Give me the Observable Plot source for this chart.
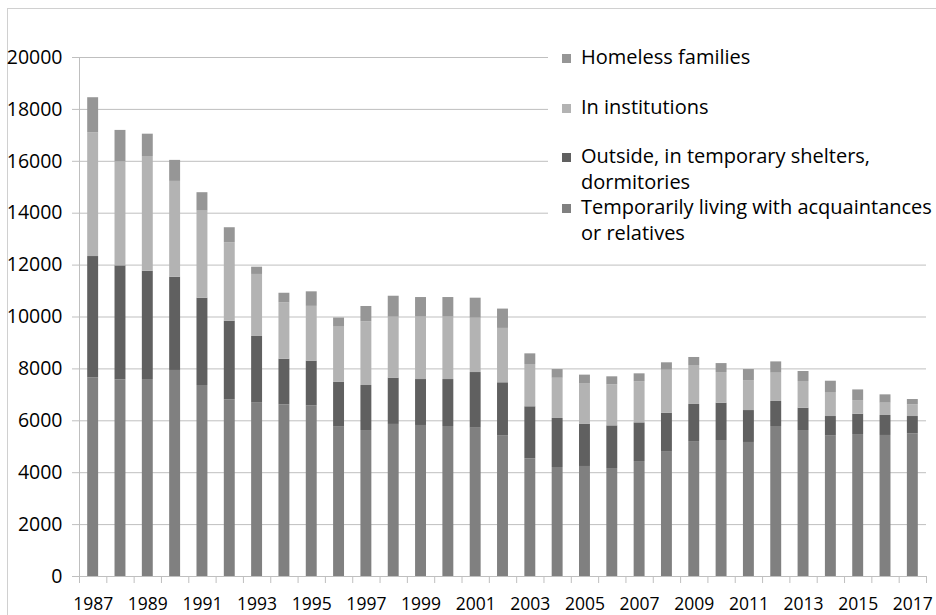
<!DOCTYPE html>
<html><head><meta charset="utf-8">
<script src="https://cdn.jsdelivr.net/npm/d3@7"></script>
<script src="https://cdn.jsdelivr.net/npm/@observablehq/plot@0.6"></script>
<style>
body{margin:0;background:#fff;font-family:"Open Sans",sans-serif;}
#wrap{position:relative;width:936px;height:615px;overflow:hidden;background:#fff;}
#frame{position:absolute;left:7px;top:8px;width:960px;height:640px;border-top:1px solid #d0d0d0;border-left:1px solid #d0d0d0;}
#chart{position:absolute;left:0;top:0;}
#legend{position:absolute;left:548px;top:38px;width:388px;height:218px;background:#fff;}
.item{position:absolute;left:33px;font-size:20px;line-height:26px;color:#000;white-space:nowrap;}
.sw{position:absolute;left:14px;width:9px;height:9px;}
</style></head>
<body><div id="wrap"><div id="frame"></div><div id="chart"></div><div id="legend"></div></div>
<script>
const years = [1987,1988,1989,1990,1991,1992,1993,1994,1995,1996,1997,1998,1999,2000,2001,2002,2003,2004,2005,2006,2007,2008,2009,2010,2011,2012,2013,2014,2015,2016,2017];
const yearLabels = [1987,1989,1991,1993,1995,1997,1999,2001,2003,2005,2007,2009,2011,2013,2015,2017];
const yTicks = [0,2000,4000,6000,8000,10000,12000,14000,16000,18000,20000];

// stacking order bottom -> top
const series = ["Temporarily living with acquaintances or relatives","Outside, in temporary shelters, dormitories","In institutions","Homeless families"];
const colors = ["#808080","#606060","#b3b3b3","#969696"];

const temporarily = [7650,7580,7590,7940,7360,6810,6680,6615,6580,5755,5625,5860,5820,5780,5715,5410,4535,4200,4240,4160,4430,4790,5200,5240,5165,5780,5625,5410,5470,5435,5500];
const outside     = [4680,4390,4175,3595,3365,3030,2570,1760,1720,1735,1735,1785,1770,1810,2145,2055,2005,1890,1620,1645,1490,1505,1430,1440,1230,965,860,755,785,770,665];
const institutions= [4770,4010,4420,3690,3355,3020,2390,2170,2110,2120,2455,2350,2410,2410,2095,2095,1630,1550,1555,1580,1590,1655,1500,1180,1155,1090,1030,925,525,475,450];
const homeless    = [1350,1210,860,810,710,580,280,370,560,350,590,805,750,750,770,745,410,335,345,310,300,285,310,345,425,435,385,435,410,320,205];

// legend (top -> bottom) with line breaks as in the original
const legendItems = [
  {name:"Homeless families", lines:["Homeless families"]},
  {name:"In institutions", lines:["In institutions"]},
  {name:"Outside, in temporary shelters, dormitories", lines:["Outside, in temporary shelters,","dormitories"]},
  {name:"Temporarily living with acquaintances or relatives", lines:["Temporarily living with acquaintances","or relatives"]}
];

const values = [temporarily, outside, institutions, homeless];
const data = years.flatMap((yr,i) => series.map((s,j) => ({year: yr, series: s, value: values[j][i]})));

const W = 936, H = 615, mL = 79, mR = 10, mT = 57, mB = 39;
const step = (W - mL - mR) / years.length;
const tickLen = 7 * 20000 / (H - mT - mB);
const axisColor = "#bfbfbf";

const chart = Plot.plot({
  width: W, height: H,
  marginLeft: mL, marginRight: mR, marginTop: mT, marginBottom: mB,
  style: {fontFamily: '"Open Sans", sans-serif', background: "transparent", color: "#000"},
  x: {domain: years, paddingInner: 0.6, paddingOuter: 0.3, round: false, label: null},
  y: {domain: [0, 20000], label: null},
  color: {domain: series, range: colors},
  marks: [
    Plot.gridY(yTicks, {stroke: axisColor, strokeOpacity: 1}),
    Plot.barY(data, {x: "year", y: "value", fill: "series", order: series}),
    Plot.ruleY([0], {stroke: axisColor}),
    Plot.ruleX([years[0]], {dx: -step/2, y1: 0, y2: 20000, stroke: axisColor}),
    Plot.ruleX(years, {dx: -step/2, y1: 0, y2: -tickLen, stroke: axisColor}),
    Plot.ruleX([years[years.length-1]], {dx: step/2, y1: 0, y2: -tickLen, stroke: axisColor}),
    Plot.axisY({ticks: yTicks, tickSize: 7, tickPadding: 10, stroke: axisColor, fill: "#000", fontSize: 19.5, tickFormat: d => String(d), label: null}),
    Plot.axisX({ticks: yearLabels, tickSize: 0, tickPadding: 21, fill: "#000", fontSize: 17.5, tickFormat: d => String(d), label: null})
  ]
});
document.getElementById("chart").appendChild(chart);

// legend
const lg = document.getElementById("legend");
const legendTops = [6, 56, 105, 156];
legendItems.forEach((it, k) => {
  const col = colors[series.indexOf(it.name)];
  const sw = document.createElement("div");
  sw.className = "sw";
  sw.style.background = col;
  sw.style.top = (legendTops[k] + 10) + "px";
  lg.appendChild(sw);
  const t = document.createElement("div");
  t.className = "item";
  t.style.top = legendTops[k] + "px";
  t.innerHTML = it.lines.join("<br>");
  lg.appendChild(t);
});
</script>
</body></html>
